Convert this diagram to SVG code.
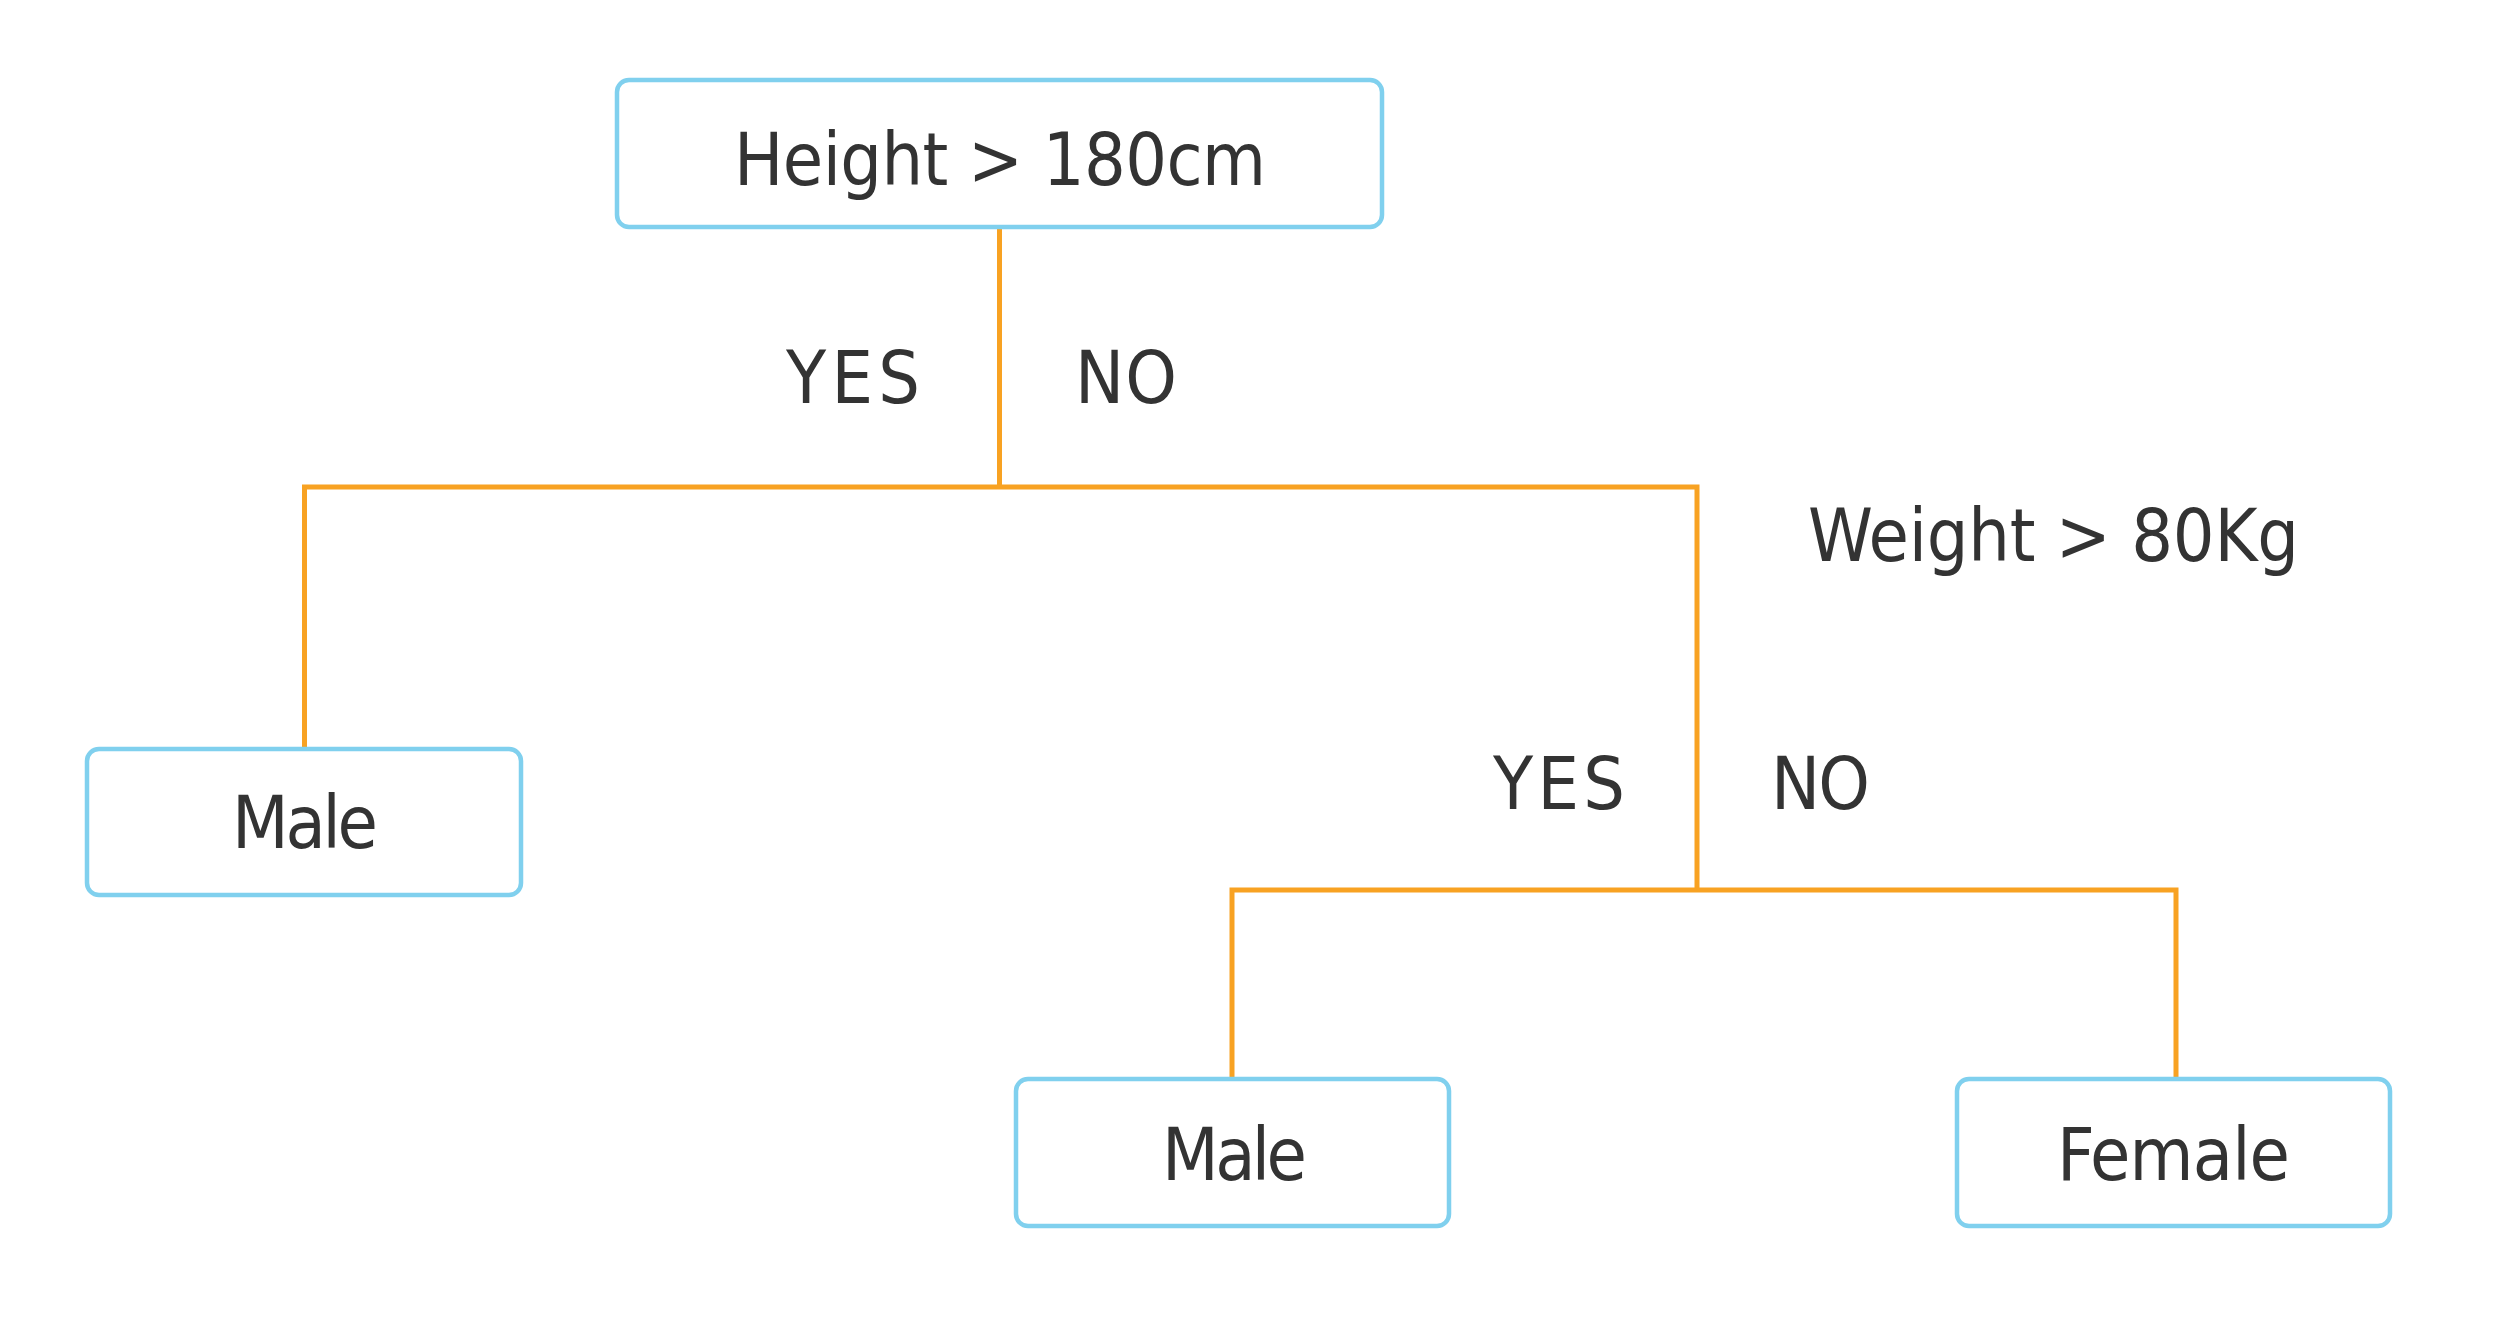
<svg xmlns="http://www.w3.org/2000/svg" width="2500" height="1323" viewBox="0 0 2500 1323">
<style>
.box{fill:#ffffff;stroke:#80d0ee;stroke-width:4.5}
.lbl{font-family:"DejaVu Sans Condensed","DejaVu Sans",sans-serif;font-size:73px;fill:#333333}
.con{fill:none;stroke:#f8a222;stroke-width:5;stroke-linecap:butt;stroke-linejoin:miter}
</style>
<rect width="2500" height="1323" fill="#ffffff"/>
<g id="connectors">
<path class="con" d="M999.5 229 V487"/>
<path class="con" d="M304.5 747 V487 H1697 V890"/>
<path class="con" d="M1232 1077 V890 H2176 V1077"/>
</g>
<g id="edge-labels">
<text class="lbl" x="786" y="403" textLength="134" lengthAdjust="spacing">YES</text>
<text class="lbl" x="1075" y="403" textLength="102" lengthAdjust="spacing">NO</text>
<text class="lbl" x="1493" y="809" textLength="132" lengthAdjust="spacing">YES</text>
<text class="lbl" x="1771" y="809" textLength="99" lengthAdjust="spacing">NO</text>
</g>
<g id="node-height">
<rect class="box" x="617" y="80" width="765" height="147" rx="12"/>
<text class="lbl" x="734" y="185" textLength="532" lengthAdjust="spacing">Height &gt; 180cm</text>
</g>
<g id="node-weight">
<text class="lbl" x="1808" y="561" textLength="491" lengthAdjust="spacing">Weight &gt; 80Kg</text>
</g>
<g id="node-male-1">
<rect class="box" x="87" y="749" width="434" height="146" rx="12"/>
<text class="lbl" x="232" y="848" textLength="146" lengthAdjust="spacing">Male</text>
</g>
<g id="node-male-2">
<rect class="box" x="1016" y="1079" width="433" height="147" rx="12"/>
<text class="lbl" x="1162" y="1180" textLength="145" lengthAdjust="spacing">Male</text>
</g>
<g id="node-female">
<rect class="box" x="1957" y="1079" width="433" height="147" rx="12"/>
<text class="lbl" x="2057" y="1180" textLength="233" lengthAdjust="spacing">Female</text>
</g>
</svg>
